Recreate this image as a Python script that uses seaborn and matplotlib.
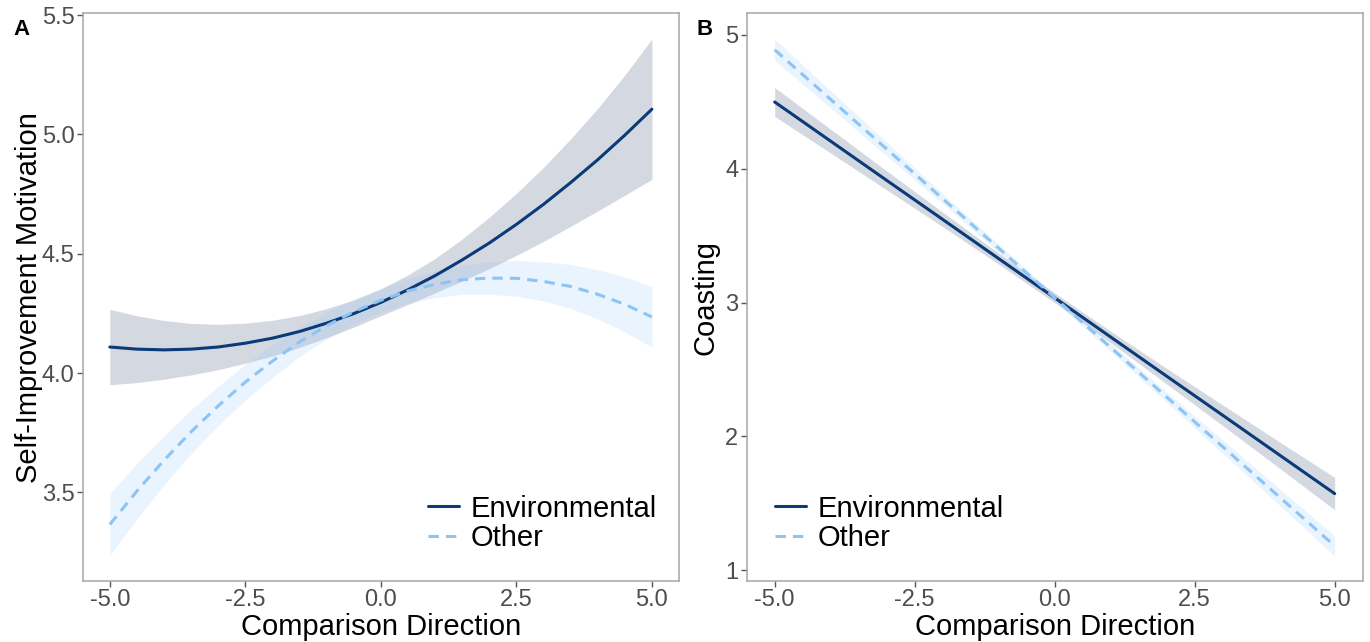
import numpy as np
import pandas as pd
import matplotlib
matplotlib.use("Agg")
import matplotlib.pyplot as plt
from matplotlib.lines import Line2D
import seaborn as sns

# ---------------- data ----------------
# Panel A: Self-Improvement Motivation (quadratic fits)
xA = [-5.0, -4.5, -4.0, -3.5, -3.0, -2.5, -2.0, -1.5, -1.0, -0.5, 0.0,
      0.5, 1.0, 1.5, 2.0, 2.5, 3.0, 3.5, 4.0, 4.5, 5.0]
envA = [4.109, 4.100, 4.097, 4.100, 4.109, 4.125, 4.146, 4.174, 4.209, 4.249, 4.296,
        4.349, 4.408, 4.474, 4.545, 4.623, 4.707, 4.798, 4.894, 4.997, 5.106]
envA_ci = [0.158, 0.140, 0.123, 0.108, 0.095, 0.084, 0.075, 0.067, 0.061, 0.057, 0.056,
           0.062, 0.072, 0.088, 0.108, 0.130, 0.155, 0.183, 0.215, 0.252, 0.294]
othA = [3.365, 3.505, 3.634, 3.754, 3.862, 3.962, 4.050, 4.130, 4.198, 4.257, 4.305,
        4.344, 4.372, 4.391, 4.398, 4.397, 4.384, 4.363, 4.330, 4.288, 4.235]
othA_ci = [0.130, 0.116, 0.103, 0.092, 0.082, 0.075, 0.068, 0.061, 0.056, 0.052, 0.050,
           0.052, 0.056, 0.061, 0.068, 0.075, 0.082, 0.092, 0.103, 0.115, 0.126]

# Panel B: Coasting (linear fits)
xB = [-5, -4, -3, -2, -1, 0, 1, 2, 3, 4, 5]
envB = [4.499, 4.206, 3.913, 3.621, 3.328, 3.035, 2.742, 2.449, 2.157, 1.864, 1.571]
envB_ci = [0.108, 0.089, 0.071, 0.054, 0.041, 0.036, 0.043, 0.058, 0.077, 0.098, 0.121]
othB = [4.889, 4.518, 4.147, 3.776, 3.406, 3.035, 2.664, 2.293, 1.922, 1.551, 1.180]
othB_ci = [0.079, 0.065, 0.051, 0.038, 0.029, 0.026, 0.030, 0.039, 0.050, 0.062, 0.075]

groups = ["Environmental", "Other"]
x_ticks = [-5.0, -2.5, 0.0, 2.5, 5.0]
x_ticklabels = ["-5.0", "-2.5", "0.0", "2.5", "5.0"]
yA_ticks = [3.5, 4.0, 4.5, 5.0, 5.5]
yA_ticklabels = ["3.5", "4.0", "4.5", "5.0", "5.5"]
yB_ticks = [1, 2, 3, 4, 5]
yB_ticklabels = ["1", "2", "3", "4", "5"]

# ---------------- style ----------------
sns.set_theme(style="white")
plt.rcParams["font.family"] = ["Liberation Sans", "DejaVu Sans"]

ENV_C = "#0A3A78"
ENV_FILL = "#2B3F6B"
OTH_C = "#8CC4F5"
OTH_FILL = "#8EC8FA"
DASH = (0, (3.4, 2.3))

W, H = 1370, 642
fig = plt.figure(figsize=(W / 100, H / 100), dpi=100)
fig.patch.set_facecolor("white")

def add_ax(l, r, t, b):
    return fig.add_axes([l / W, 1 - b / H, (r - l) / W, (b - t) / H])

axA = add_ax(82.7, 679.0, 13.3, 581.0)
axB = add_ax(746.7, 1362.7, 13.3, 581.0)


def draw(ax, x, env, env_ci, oth, oth_ci):
    x = np.asarray(x, float)
    env = np.asarray(env); env_ci = np.asarray(env_ci)
    oth = np.asarray(oth); oth_ci = np.asarray(oth_ci)
    ax.fill_between(x, env - env_ci, env + env_ci, color=ENV_FILL, alpha=0.2, lw=0, zorder=1)
    ax.fill_between(x, oth - oth_ci, oth + oth_ci, color=OTH_FILL, alpha=0.19, lw=0, zorder=1)
    df_env = pd.DataFrame({"x": x, "y": env})
    df_oth = pd.DataFrame({"x": x, "y": oth})
    sns.lineplot(data=df_env, x="x", y="y", ax=ax, color=ENV_C, lw=2.2, zorder=3)
    sns.lineplot(data=df_oth, x="x", y="y", ax=ax, color=OTH_C, lw=2.2,
                 linestyle=DASH, zorder=4)


draw(axA, xA, envA, envA_ci, othA, othA_ci)
draw(axB, xB, envB, envB_ci, othB, othB_ci)

for ax in (axA, axB):
    ax.set_xlim(-5.5, 5.5)
    ax.set_xticks(x_ticks)
    ax.set_xticklabels(x_ticklabels)
    ax.set_xlabel("Comparison Direction", fontsize=21, color="black", labelpad=1)
    for s in ax.spines.values():
        s.set_visible(True)
        s.set_color("#A6A6A6")
        s.set_linewidth(1.1)
    ax.tick_params(axis="both", which="major", length=4, width=1.0, color="#555555",
                   labelsize=17, labelcolor="#4D4D4D", pad=2, bottom=True, left=True)
    ax.grid(False)

axA.set_ylim(3.128, 5.508)
axA.set_yticks(yA_ticks)
axA.set_yticklabels(yA_ticklabels)
axA.set_ylabel("Self-Improvement Motivation", fontsize=21, color="black", labelpad=-1)

axB.set_ylim(0.918, 5.162)
axB.set_yticks(yB_ticks)
axB.set_yticklabels(yB_ticklabels)
axB.set_ylabel("Coasting", fontsize=21, color="black", labelpad=4)

handles = [Line2D([], [], color=ENV_C, lw=2.2),
           Line2D([], [], color=OTH_C, lw=2.2, linestyle=DASH)]
for ax, loc, anchor in ((axA, "lower right", (0.963, 0.051)),
                        (axB, "lower left", (0.046, 0.051))):
    leg = ax.legend(handles, groups, loc=loc, bbox_to_anchor=anchor,
                    frameon=False, fontsize=21, handlelength=1.05, handletextpad=0.4,
                    labelspacing=0.05, borderpad=0, borderaxespad=0)
    for t in leg.get_texts():
        t.set_color("black")

fig.text(13 / W, 1 - 35 / H, "A", fontsize=16, fontweight="bold", color="black")
fig.text(697 / W, 1 - 35 / H, "B", fontsize=16, fontweight="bold", color="black")

fig.savefig("out.png", dpi=100, facecolor="white")
